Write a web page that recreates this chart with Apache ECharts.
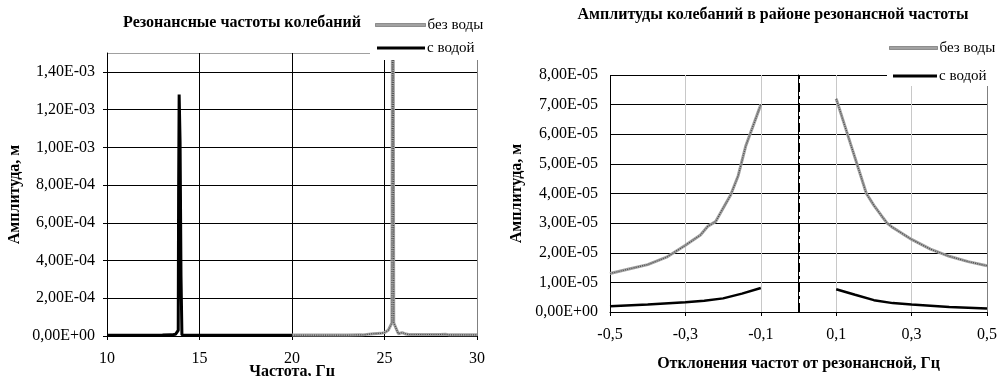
<!DOCTYPE html>
<html>
<head>
<meta charset="utf-8">
<script src="https://cdn.jsdelivr.net/npm/echarts@6/dist/echarts.min.js"></script>
<style>
  html, body { margin: 0; padding: 0; background: #fff; }
  #chart { width: 998px; height: 376px; }
</style>
</head>
<body>
<div id="chart"></div>
<script>
// Resonance spectrum: water-filled (с водой) vs empty (без воды)
const freqWet = [10, 11, 12, 13, 13.5, 13.7, 13.8, 13.85, 13.87, 13.9, 13.95, 14.0, 14.05, 14.2, 15, 16, 17, 18, 19, 20];
const ampWet  = [4e-6, 4e-6, 4e-6, 5e-6, 6e-6, 9e-6, 1.4e-5, 3e-5, 7.5e-4, 1.28e-3, 1.03e-3, 3.2e-4, 6e-6, 4e-6, 4e-6, 4e-6, 4e-6, 4e-6, 4e-6, 4e-6];

const freqDry = [20, 21, 22, 23, 23.8, 23.9, 24.4, 24.8, 25.0, 25.2, 25.4, 25.45, 25.5, 25.75, 25.95, 26.1, 26.3, 27, 28, 28.3, 28.4, 28.5, 29, 30];
const ampDry  = [5e-6, 5e-6, 5e-6, 5e-6, 6e-6, 1.1e-5, 1.2e-5, 1.4e-5, 1.8e-5, 3e-5, 7e-5, 3e-3, 7e-5, 1.2e-5, 1.8e-5, 1.2e-5, 8e-6, 8e-6, 8e-6, 9e-6, 1.6e-5, 6e-6, 6e-6, 6e-6];

// Amplitudes near resonance, frequency offset in Hz
const offDryLeft  = [-0.5, -0.45, -0.4, -0.35, -0.3, -0.26, -0.24, -0.22, -0.2, -0.18, -0.16, -0.14, -0.12, -0.1];
const ampDryLeft  = [1.3e-5, 1.45e-5, 1.6e-5, 1.85e-5, 2.25e-5, 2.6e-5, 2.9e-5, 3.05e-5, 3.5e-5, 3.95e-5, 4.6e-5, 5.6e-5, 6.3e-5, 7.0e-5];
const offDryRight = [0.1, 0.12, 0.14, 0.16, 0.18, 0.2, 0.22, 0.235, 0.25, 0.3, 0.35, 0.4, 0.45, 0.5];
const ampDryRight = [7.2e-5, 6.4e-5, 5.6e-5, 4.8e-5, 4.0e-5, 3.6e-5, 3.25e-5, 3.0e-5, 2.85e-5, 2.45e-5, 2.12e-5, 1.88e-5, 1.7e-5, 1.56e-5];

const offWetLeft  = [-0.5, -0.4, -0.3, -0.25, -0.2, -0.15, -0.1];
const ampWetLeft  = [1.9e-6, 2.5e-6, 3.3e-6, 3.8e-6, 4.6e-6, 6.2e-6, 8.1e-6];
const offWetRight = [0.1, 0.15, 0.2, 0.25, 0.3, 0.4, 0.5];
const ampWetRight = [7.7e-6, 5.8e-6, 4.0e-6, 3.0e-6, 2.5e-6, 1.7e-6, 1.2e-6];

const resonanceOffset = 0;

const seriesNames = ['без воды', 'с водой'];
const titles = ['Резонансные частоты колебаний', 'Амплитуды колебаний в районе резонансной частоты'];
const yAxisName = 'Амплитуда, м';
const xAxisNames = ['Частота, Гц', 'Отклонения частот от резонансной, Гц'];

const FONT = "'Liberation Serif', 'Times New Roman', serif";

function pairs(xs, ys) { return xs.map((x, i) => [x, ys[i]]); }

// Excel-like scientific label with decimal comma: 1,40E-03
function sci(v) {
  const parts = Number(v).toExponential(2).split('e');
  const e = parseInt(parts[1], 10);
  return parts[0].replace('.', ',') + 'E' + (e < 0 ? '-' : '+') + String(Math.abs(e)).padStart(2, '0');
}
function dec(v) {
  return (Math.round(v * 10) / 10).toFixed(1).replace('.', ',');
}

const labelStyle = { color: '#000', fontFamily: FONT, fontSize: 16 };
const nameStyle = { color: '#000', fontFamily: FONT, fontSize: 16, fontWeight: 'bold' };

const DRY = '#a2a2a2';
const dryBase = { color: DRY, width: 3 };
const dryDots = { color: '#4a4a4a', width: 1.2, type: [1, 1.2] };
const wetLine = { color: '#000', width: 3 };

function drySeries(name, xi, data, extra) {
  return [
    Object.assign({ type: 'line', name: name, xAxisIndex: xi, yAxisIndex: xi, data: data,
      symbol: 'none', lineStyle: dryBase, itemStyle: { color: DRY }, z: 3 }, extra || {}),
    { type: 'line', name: name + ' ', xAxisIndex: xi, yAxisIndex: xi, data: data,
      symbol: 'none', lineStyle: dryDots, itemStyle: { color: '#4a4a4a' }, z: 4, silent: true }
  ];
}

// one legend entry, placed by the vertical centre of its row
function legendEntry(name, left, centerY, width, thick) {
  const dry = name === seriesNames[0];
  return {
    data: [{ name: name, icon: 'rect',
      itemStyle: dry ? { color: DRY, borderColor: '#4a4a4a', borderWidth: 1, borderType: [1, 1] } : { color: '#000' } }],
    left: left, top: centerY - 8, padding: 0, itemWidth: width, itemHeight: thick,
    selectedMode: false, z: 20,
    textStyle: { color: '#000', fontFamily: FONT, fontSize: 15, lineHeight: 16, padding: [0, 0, 0, -3] }
  };
}

const chart = echarts.init(document.getElementById('chart'), null, { renderer: 'canvas' });

chart.setOption({
  animation: false,
  backgroundColor: '#fff',
  graphic: [
    // white boxes behind the legends
    { type: 'rect', shape: { x: 370, y: 0, width: 628, height: 60 }, style: { fill: '#fff' }, z: 15 },
    { type: 'rect', shape: { x: 887, y: 0, width: 111, height: 86 }, style: { fill: '#fff' }, z: 15 },
    { type: 'text', x: 242, y: 23, z: 16, style: { text: titles[0], align: 'center', verticalAlign: 'middle',
      font: 'bold 16px ' + FONT, fill: '#000' } },
    { type: 'text', x: 773, y: 15, z: 16, style: { text: titles[1], align: 'center', verticalAlign: 'middle',
      font: 'bold 16px ' + FONT, fill: '#000' } }
  ],
  legend: [
    legendEntry(seriesNames[0], 375, 25, 50, 3),
    legendEntry(seriesNames[1], 377, 48, 48, 3),
    legendEntry(seriesNames[0], 889, 48, 48, 3),
    legendEntry(seriesNames[1], 893, 76, 44, 3)
  ],
  grid: [
    { left: 107, top: 53, width: 370, height: 283, outerBoundsMode: 'none', containLabel: false },
    { left: 610, top: 75, width: 377, height: 237, outerBoundsMode: 'none', containLabel: false }
  ],
  xAxis: [
    { type: 'value', gridIndex: 0, min: 10, max: 30, interval: 5,
      name: xAxisNames[0], nameLocation: 'middle', nameGap: 28, nameMoveOverlap: false, nameTextStyle: nameStyle,
      axisLine: { show: true, onZero: false, lineStyle: { color: '#000', width: 1 } },
      axisTick: { show: true, length: 4, lineStyle: { color: '#000' } },
      axisLabel: { margin: 15, formatter: v => String(v), ...labelStyle },
      splitLine: { show: true, lineStyle: { color: ['#000', '#000', '#000', '#000', '#808080'], width: 1 } } },
    { type: 'value', gridIndex: 1, min: -0.5, max: 0.5, interval: 0.2,
      name: xAxisNames[1], nameLocation: 'middle', nameGap: 44, nameMoveOverlap: false, nameTextStyle: nameStyle,
      axisLine: { show: true, onZero: false, lineStyle: { color: '#000', width: 1 } },
      axisTick: { show: true, length: 4, lineStyle: { color: '#000' } },
      axisLabel: { margin: 15, formatter: dec, ...labelStyle },
      splitLine: { show: true, lineStyle: { color: ['#000', '#c8c8c8', '#c8c8c8', '#c8c8c8', '#c8c8c8', '#808080'], width: 1 } } }
  ],
  yAxis: [
    { type: 'value', gridIndex: 0, min: 0, max: 1.5e-3, interval: 2e-4,
      name: yAxisName, nameLocation: 'middle', nameGap: 84, nameMoveOverlap: false, nameTextStyle: nameStyle,
      axisLine: { show: true, lineStyle: { color: '#000', width: 1 } },
      axisTick: { show: true, length: 4, lineStyle: { color: '#000' } },
      axisLabel: { margin: 12, showMaxLabel: false, formatter: sci, ...labelStyle },
      splitLine: { show: true, lineStyle: { color: ['#000', '#000', '#000', '#000', '#000', '#000', '#000', '#000', '#a0a0a0'], width: 1 } } },
    { type: 'value', gridIndex: 1, min: 0, max: 8e-5, interval: 1e-5,
      name: yAxisName, nameLocation: 'middle', nameGap: 85, nameMoveOverlap: false, nameTextStyle: nameStyle,
      axisLine: { show: true, lineStyle: { color: '#000', width: 1 } },
      axisTick: { show: true, length: 4, lineStyle: { color: '#000' } },
      axisLabel: { margin: 12, formatter: sci, ...labelStyle },
      splitLine: { show: true, lineStyle: { color: '#000', width: 1 } } }
  ],
  series: [
    ...drySeries(seriesNames[0], 0, pairs(freqDry, ampDry)),
    { type: 'line', name: seriesNames[1], xAxisIndex: 0, yAxisIndex: 0, data: pairs(freqWet, ampWet),
      symbol: 'none', lineStyle: wetLine, itemStyle: { color: '#000' }, z: 5 },

    ...drySeries(seriesNames[0], 1, pairs(offDryLeft, ampDryLeft), {
      markLine: { silent: true, symbol: 'none', label: { show: false },
        lineStyle: { color: '#000', width: 2, type: [9, 4, 3, 4] },
        data: [{ xAxis: resonanceOffset }] } }),
    ...drySeries(seriesNames[0], 1, pairs(offDryRight, ampDryRight)),
    { type: 'line', name: seriesNames[1], xAxisIndex: 1, yAxisIndex: 1, data: pairs(offWetLeft, ampWetLeft),
      symbol: 'none', lineStyle: { color: '#000', width: 2.5 }, itemStyle: { color: '#000' }, z: 5 },
    { type: 'line', name: seriesNames[1], xAxisIndex: 1, yAxisIndex: 1, data: pairs(offWetRight, ampWetRight),
      symbol: 'none', lineStyle: { color: '#000', width: 2.5 }, itemStyle: { color: '#000' }, z: 5 }
  ]
});
</script>
</body>
</html>
